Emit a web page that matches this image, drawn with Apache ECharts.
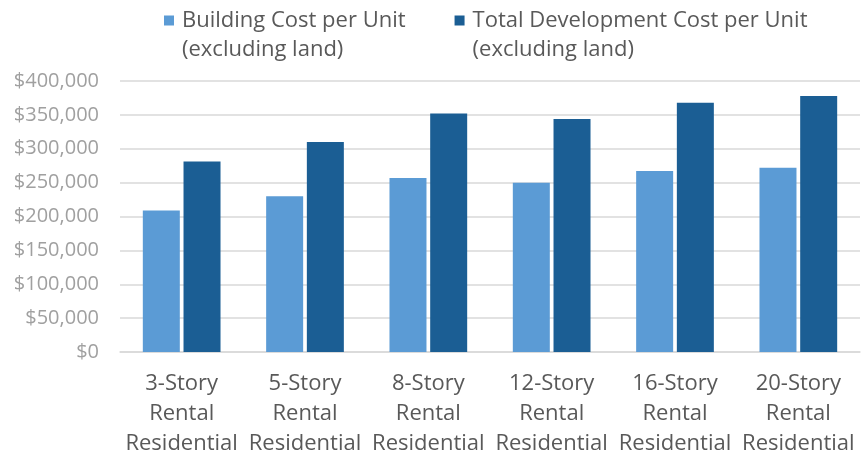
<!DOCTYPE html>
<html>
<head>
<meta charset="utf-8">
<script src="https://cdn.jsdelivr.net/npm/echarts@6/dist/echarts.min.js"></script>
<style>
  html, body { margin: 0; padding: 0; background: #fff; }
  #chart { width: 867px; height: 461px; }
</style>
</head>
<body>
<div id="chart"></div>
<script>
  const categories = [
    "3-Story\nRental\nResidential",
    "5-Story\nRental\nResidential",
    "8-Story\nRental\nResidential",
    "12-Story\nRental\nResidential",
    "16-Story\nRental\nResidential",
    "20-Story\nRental\nResidential",
  ];
  const buildingCost = [209000, 230000, 257000, 250000, 267000, 272000];
  const totalDevCost = [281000, 310000, 352000, 344000, 368000, 378000];
  const seriesNames = [
    "Building Cost per Unit\n(excluding land)",
    "Total Development Cost per Unit\n(excluding land)",
  ];

  const font = "'Open Sans', sans-serif";
  const chart = echarts.init(document.getElementById("chart"));

  chart.setOption({
    animation: false,
    grid: { left: 120, right: 7, top: 81, bottom: 109 },
    legend: {
      left: 164,
      top: -23,
      padding: 0,
      itemWidth: 10,
      itemHeight: 10,
      itemGap: 49,
      icon: "rect",
      // blank first line so the icon sits beside the first text line
      formatter: (name) => " \n" + name,
      textStyle: {
        fontFamily: font,
        fontSize: 22,
        lineHeight: 29,
        color: "#595959",
        padding: [0, 0, 0, 3],
      },
      data: seriesNames,
    },
    xAxis: {
      type: "category",
      data: categories,
      axisTick: { show: false },
      axisLine: { lineStyle: { color: "#d9d9d9", width: 1.5 } },
      axisLabel: {
        margin: 17,
        fontFamily: font,
        fontSize: 22,
        lineHeight: 30,
        color: "#595959",
        interval: 0,
      },
    },
    yAxis: {
      type: "value",
      min: 0,
      max: 400000,
      interval: 50000,
      axisLine: { show: false },
      axisTick: { show: false },
      splitLine: { lineStyle: { color: "#d9d9d9", width: 1.5 } },
      axisLabel: {
        margin: 21,
        fontFamily: font,
        fontSize: 20,
        color: "#a0a0a0",
        formatter: (v) => "$" + v.toLocaleString("en-US"),
      },
    },
    series: [
      {
        name: seriesNames[0],
        type: "bar",
        barWidth: "30%",
        barGap: "10%",
        itemStyle: { color: "#5b9bd5" },
        data: buildingCost,
      },
      {
        name: seriesNames[1],
        type: "bar",
        barWidth: "30%",
        barGap: "10%",
        itemStyle: { color: "#1b5e94" },
        data: totalDevCost,
      },
    ],
  });
</script>
</body>
</html>
